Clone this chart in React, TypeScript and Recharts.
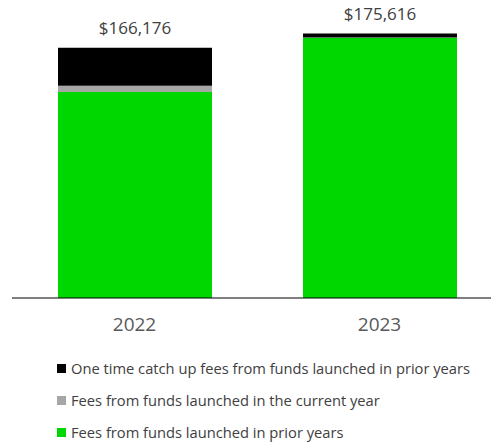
import React from 'react';
import { BarChart, Bar, XAxis, YAxis, LabelList } from 'recharts';

const years = ['2022', '2023'];
const priorYearFees = [136900, 172800];
const currentYearFees = [4000, 300];
const catchUpFees = [25276, 2516];
const totals = [166176, 175616];

const seriesInfo = [
  { key: 'catchUp', name: 'One time catch up fees from funds launched in prior years', color: '#000000' },
  { key: 'current', name: 'Fees from funds launched in the current year', color: '#a6a6a6' },
  { key: 'prior', name: 'Fees from funds launched in prior years', color: '#00d600' },
];

const data = years.map((year, i) => ({
  year,
  prior: priorYearFees[i],
  current: currentYearFees[i],
  catchUp: catchUpFees[i],
  total: totals[i],
}));

const fmt = (v: number) => '$' + v.toLocaleString('en-US');

// legend sits under the axis, drawn as plain html
const LegendBox = () => (
  <div style={{ position: 'absolute', left: 57, top: 352 }}>
    {seriesInfo.map((s) => (
      <div
        key={s.key}
        style={{ display: 'flex', alignItems: 'center', height: 32, fontSize: 14.7, color: '#404040', whiteSpace: 'nowrap' }}
      >
        <span style={{ width: 9, height: 9, background: s.color, marginRight: 5, display: 'inline-block' }} />
        {s.name}
      </div>
    ))}
  </div>
);

export default function App() {
  return (
    <div style={{ position: 'absolute', left: 0, top: 0, width: 491, height: 443, overflow: 'hidden', background: '#fff', fontFamily: '"Open Sans", sans-serif' }}>
      <BarChart
        width={502}
        height={443}
        data={data}
        margin={{ top: 27, right: 0, bottom: 115, left: 12 }}
        barSize={154}
      >
        <XAxis
          dataKey="year"
          stroke="#000"
          axisLine={{ stroke: '#000', strokeWidth: 1.2 }}
          tickLine={false}
          tick={{ fill: '#595959', fontSize: 19 }}
          tickMargin={14}
        />
        <YAxis hide domain={[0, 180000]} />
        <Bar dataKey="prior" stackId="a" fill="#00d600" isAnimationActive={false} />
        <Bar dataKey="current" stackId="a" fill="#a6a6a6" isAnimationActive={false} />
        <Bar dataKey="catchUp" stackId="a" fill="#000000" isAnimationActive={false}>
          <LabelList dataKey="total" position="top" offset={14} formatter={(v: number) => fmt(v)} fill="#404040" fontSize={17} />
        </Bar>
      </BarChart>
      <LegendBox />
    </div>
  );
}
